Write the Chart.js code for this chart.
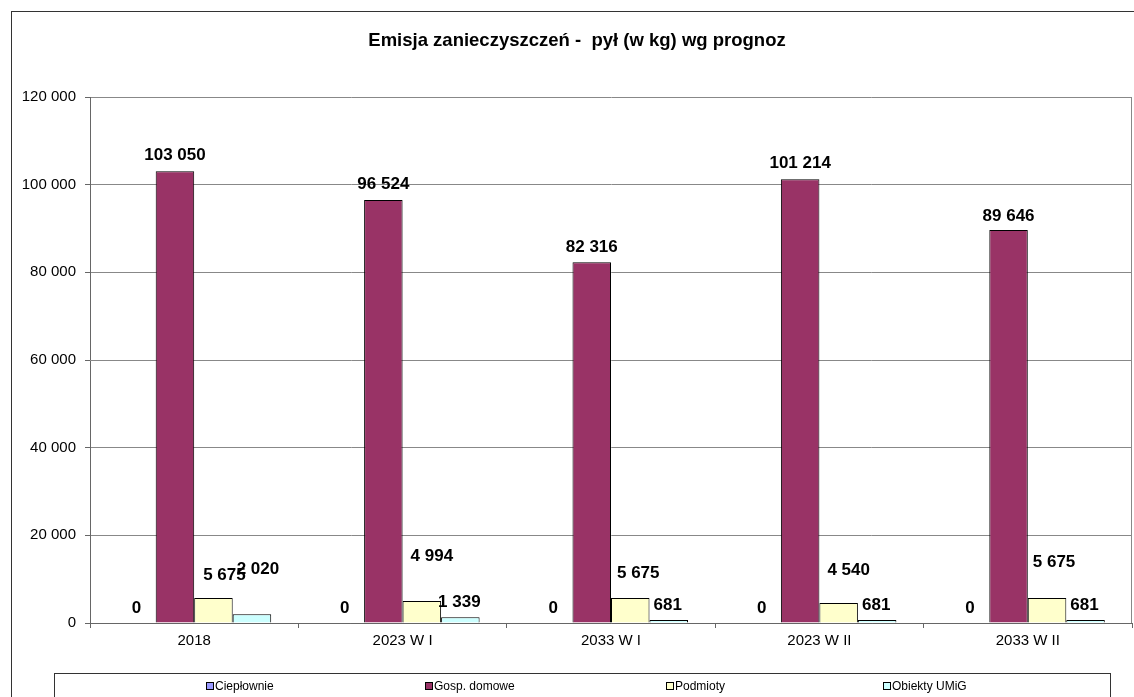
<!DOCTYPE html>
<html>
<head>
<meta charset="utf-8">
<script src="https://cdn.jsdelivr.net/npm/chart.js@4.4.0/dist/chart.umd.min.js"></script>
<style>
  body { margin: 0; background: #fff; }
</style>
</head>
<body>
<canvas id="myChart" width="1134" height="697"></canvas>
<script>
// dane z wykresu
const categories = ['2018', '2023 W I', '2033 W I', '2023 W II', '2033 W II'];
const seriesNames = ['Ciepłownie', 'Gosp. domowe', 'Podmioty', 'Obiekty UMiG'];
const cieplownie = [0, 0, 0, 0, 0];
const gospDomowe = [103050, 96524, 82316, 101214, 89646];
const podmioty = [5675, 4994, 5675, 4540, 5675];
const obiektyUMiG = [2020, 1339, 681, 681, 681];
const yTicks = [0, 20000, 40000, 60000, 80000, 100000, 120000];

const colors = ['#9999FF', '#993366', '#FFFFCC', '#CCFFFF'];
const FONT = "'Liberation Sans', Arial, sans-serif";

// przesuniecia etykiet (jak w oryginale, czesc recznie przesunieta)
const labelDx = [
    [0, 0, 0, 0, 0],
    [0, 0, 0, 0, 0],
    [11, 10, 8, 10, 7],
    [6, -1, -1, -1, -1]
];
const labelDy = [
    [15, 15, 15, 15, 15],
    [16, 16, 15, 16, 14],
    [23, 45, 25, 33, 36],
    [45, 15, 15, 15, 15]
];
const legendX = [206, 425, 666, 883];

const fmt = (v) => String(v).replace(/\B(?=(\d{3})+(?!\d))/g, ' ');

const valueLabels = {
    id: 'valueLabels',
    afterDatasetsDraw(chart) {
        const ctx = chart.ctx;
        ctx.save();
        ctx.font = 'bold 17px ' + FONT;
        ctx.fillStyle = '#000';
        ctx.textAlign = 'center';
        ctx.textBaseline = 'middle';
        chart.data.datasets.forEach((ds, d) => {
            const meta = chart.getDatasetMeta(d);
            meta.data.forEach((bar, i) => {
                ctx.fillText(fmt(ds.data[i]), bar.x + labelDx[d][i], bar.y - labelDy[d][i]);
            });
        });
        ctx.restore();
    }
};

const frame = {
    id: 'frame',
    afterDraw(chart) {
        const ctx = chart.ctx;
        const a = chart.chartArea;
        ctx.save();
        // ramka wykresu
        ctx.strokeStyle = '#333';
        ctx.lineWidth = 1;
        ctx.strokeRect(11.5, 11.5, 1300, 1000);
        // prawa krawedz obszaru
        ctx.strokeStyle = '#888';
        ctx.beginPath();
        ctx.moveTo(Math.round(a.right) - 0.5, a.top);
        ctx.lineTo(Math.round(a.right) - 0.5, a.bottom);
        ctx.stroke();
        // tytul
        ctx.fillStyle = '#000';
        ctx.font = 'bold 18.5px ' + FONT;
        ctx.textAlign = 'center';
        ctx.textBaseline = 'middle';
        ctx.fillText('Emisja zanieczyszczeń -  pył (w kg) wg prognoz', 577, 41);
        // legenda
        ctx.strokeStyle = '#333';
        ctx.strokeRect(54.5, 673.5, 1056, 100);
        ctx.font = '12px ' + FONT;
        ctx.textAlign = 'left';
        chart.data.datasets.forEach((ds, d) => {
            const x = legendX[d];
            ctx.fillStyle = ds.backgroundColor;
            ctx.fillRect(x, 682, 8, 8);
            ctx.strokeStyle = '#000';
            ctx.strokeRect(x + 0.5, 682.5, 7, 7);
            ctx.fillStyle = '#000';
            ctx.fillText(ds.label, x + 9, 687);
        });
        ctx.restore();
    }
};

const ctx = document.getElementById('myChart').getContext('2d');
const myChart = new Chart(ctx, {
    type: 'bar',
    data: {
        labels: categories,
        datasets: [cieplownie, gospDomowe, podmioty, obiektyUMiG].map((values, d) => ({
            label: seriesNames[d],
            data: values,
            backgroundColor: colors[d],
            borderColor: '#000',
            borderWidth: 1,
            borderSkipped: 'bottom',
            categoryPercentage: 0.739,
            barPercentage: 1
        }))
    },
    options: {
        responsive: false,
        animation: false,
        layout: { padding: { left: 0, right: 2, top: 97, bottom: 34 } },
        plugins: {
            legend: { display: false },
            title: { display: false },
            tooltip: { enabled: false }
        },
        scales: {
            x: {
                offset: true,
                grid: { offset: true, drawOnChartArea: false, drawTicks: true, tickLength: 5, color: '#666' },
                border: { color: '#666' },
                ticks: { color: '#000', font: { size: 15, family: FONT }, padding: 4 },
                afterFit: (scale) => { scale.height = 40; }
            },
            y: {
                min: 0,
                max: 120000,
                afterBuildTicks: (scale) => { scale.ticks = yTicks.map(v => ({ value: v })); },
                grid: { color: '#888', tickLength: 5, tickColor: '#666' },
                border: { color: '#666' },
                ticks: { color: '#000', font: { size: 15, family: FONT }, padding: 9, callback: (v) => fmt(v) },
                afterFit: (scale) => { scale.width = 90; }
            }
        }
    },
    plugins: [valueLabels, frame]
});
</script>
</body>
</html>
